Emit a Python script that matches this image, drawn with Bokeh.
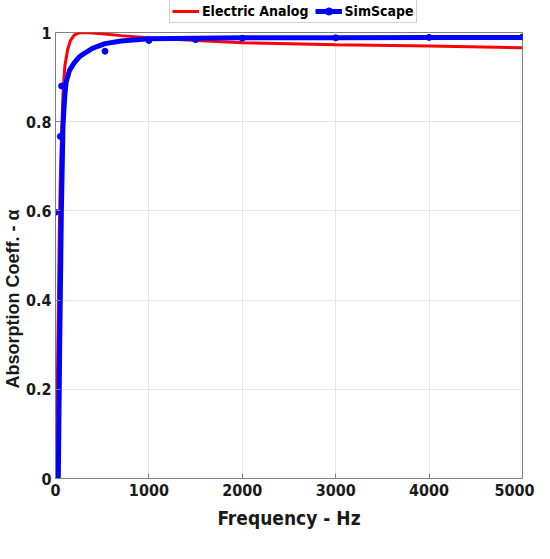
from bokeh.plotting import figure
from bokeh.models import Legend, LegendItem, FixedTicker, Range1d, Title
from bokeh.layouts import column
from bokeh.embed import file_html
from bokeh.resources import INLINE

# Electric Analog (red line)
ea_freq = [0, 10, 20, 30, 40, 50, 60, 80, 100, 130, 160, 200, 250, 300, 400, 500, 700, 1000, 1500, 2000, 3000, 4000, 5000]
ea_alpha = [0.0, 0.1, 0.22, 0.38, 0.55, 0.66, 0.74, 0.86, 0.925, 0.962, 0.982, 0.994, 0.999, 1.0, 0.999, 0.997, 0.993, 0.988, 0.982, 0.977, 0.9726, 0.9695, 0.966]

# SimScape smooth line
ss_freq = [30, 45, 62, 80, 100, 114, 150, 200, 253, 300, 400, 530, 700, 1000, 1500, 2000, 3000, 4000, 5000]
ss_alpha = [0.0, 0.3, 0.59, 0.79, 0.86, 0.889, 0.915, 0.932, 0.945, 0.952, 0.965, 0.975, 0.981, 0.986, 0.987, 0.988, 0.988, 0.989, 0.989]

# SimScape data markers
sm_freq = [0, 52, 66, 530, 1000, 1500, 2000, 3000, 4000, 5000]
sm_alpha = [0.597, 0.767, 0.88, 0.958, 0.982, 0.984, 0.987, 0.988, 0.989, 0.99]

x_ticks = [0, 1000, 2000, 3000, 4000, 5000]
y_ticks = [0, 0.2, 0.4, 0.6, 0.8, 1]
y_tick_labels = ["0", "0.2", "0.4", "0.6", "0.8", "1"]

series_names = ["Electric Analog", "SimScape"]
series_colors = ["#ff0000", "#0000ff"]

FONT_N = "DejaVu Sans Condensed, Liberation Sans"
FONT = "Liberation Sans"

W = 534
LEG_H = 24


def draw_series(fig):
    a = fig.line(ea_freq, ea_alpha, line_color=series_colors[0], line_width=3)
    b = fig.line(ss_freq, ss_alpha, line_color=series_colors[1], line_width=5)
    c = fig.scatter(sm_freq, sm_alpha, marker="circle", size=6,
                    fill_color=series_colors[1], line_color=series_colors[1])
    return a, b, c


# ---- main plot ----
p = figure(width=W, height=518, output_backend="svg", toolbar_location=None,
           x_range=Range1d(0, 5000), y_range=Range1d(0, 1),
           min_border_left=41, min_border_right=12, min_border_top=8, min_border_bottom=64)

p.outline_line_color = "#808080"
p.outline_line_width = 1
p.background_fill_color = "white"
p.border_fill_color = "white"

p.xaxis.ticker = FixedTicker(ticks=x_ticks)
p.yaxis.ticker = FixedTicker(ticks=y_ticks)
p.yaxis.major_label_overrides = {t: l for t, l in zip(y_ticks, y_tick_labels)}
p.xaxis.major_label_overrides = {t: str(t) for t in x_ticks}

for ax in (p.xaxis[0], p.yaxis[0]):
    ax.axis_line_color = "#808080"
    ax.major_tick_line_color = "#808080"
    ax.major_tick_in = 5
    ax.major_tick_out = 0
    ax.minor_tick_line_color = None
    ax.major_label_text_font = FONT_N
    ax.major_label_text_font_style = "bold"
    ax.major_label_text_font_size = "16px"
    ax.major_label_text_color = "#1a1a1a"
p.yaxis.major_label_standoff = 4

p.xaxis.axis_label = "Frequency - Hz"
p.xaxis.axis_label_text_font = FONT_N
p.xaxis.axis_label_text_font_style = "bold"
p.xaxis.axis_label_text_font_size = "19px"
p.xaxis.axis_label_text_color = "#1a1a1a"
p.xaxis.axis_label_standoff = 8

ytitle = Title(text="Absorption Coeff. - \u03b1", align="left", offset=90,
               text_font=FONT, text_font_style="bold", text_font_size="18px",
               text_color="#1a1a1a", standoff=0)
p.add_layout(ytitle, "left")

p.grid.grid_line_color = "#e6e6e6"
p.grid.grid_line_width = 1

draw_series(p)

# ---- legend strip above the plot (same series, drawn out of view) ----
lf = figure(width=W, height=LEG_H, output_backend="svg", toolbar_location=None,
            x_range=Range1d(-20, -10), y_range=Range1d(-20, -10),
            x_axis_type=None, y_axis_type=None,
            min_border_left=0, min_border_right=0, min_border_top=0, min_border_bottom=0)
lf.grid.visible = False
lf.outline_line_color = None
lf.border_fill_color = "white"
lf.background_fill_color = "white"
l1, l2, l3 = draw_series(lf)

legend = Legend(items=[
    LegendItem(label=series_names[0], renderers=[l1]),
    LegendItem(label=series_names[1], renderers=[l2, l3]),
], orientation="horizontal", location=(114, 1))
legend.label_text_font = FONT_N
legend.label_text_font_style = "bold"
legend.label_text_font_size = "14px"
legend.label_text_color = "#000000"
legend.border_line_color = "#a0a0a0"
legend.border_line_width = 1
legend.padding = 2
legend.spacing = 6
legend.margin = 0
legend.glyph_width = 27
legend.glyph_height = 18
legend.label_standoff = 3
legend.label_height = 18
legend.background_fill_alpha = 1
lf.add_layout(legend, "center")

layout = column(lf, p, spacing=0)
open("out.html", "w").write(file_html(layout, INLINE))
